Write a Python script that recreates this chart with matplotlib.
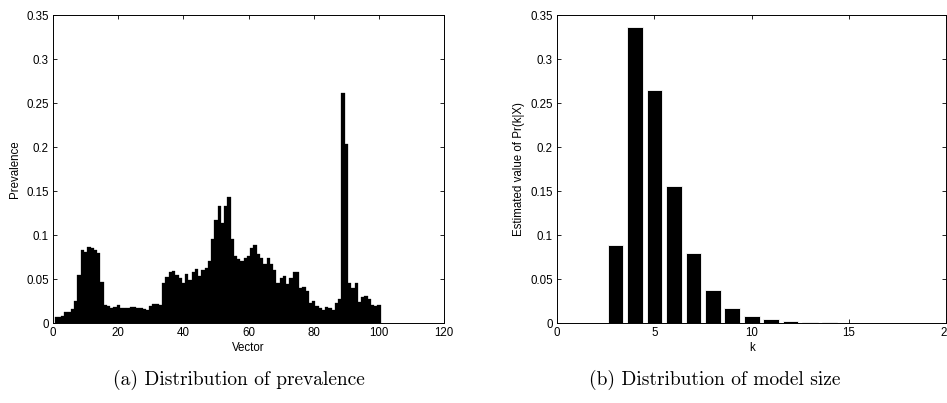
import matplotlib
matplotlib.use("Agg")
import matplotlib.pyplot as plt
import numpy as np

# prevalence of each vector (1..100)
prevalence = [
    0.007, 0.007, 0.008, 0.012, 0.013, 0.016, 0.025, 0.055, 0.083, 0.081,
    0.086, 0.085, 0.083, 0.080, 0.047, 0.020, 0.019, 0.017, 0.018, 0.020,
    0.017, 0.017, 0.017, 0.018, 0.018, 0.017, 0.017, 0.016, 0.015, 0.019,
    0.022, 0.022, 0.020, 0.046, 0.052, 0.058, 0.059, 0.055, 0.051, 0.046,
    0.056, 0.049, 0.058, 0.061, 0.054, 0.060, 0.062, 0.071, 0.095, 0.117,
    0.133, 0.114, 0.133, 0.143, 0.096, 0.076, 0.073, 0.071, 0.074, 0.076,
    0.085, 0.089, 0.078, 0.074, 0.067, 0.074, 0.067, 0.060, 0.045, 0.051,
    0.054, 0.044, 0.051, 0.058, 0.058, 0.040, 0.041, 0.036, 0.023, 0.025,
    0.019, 0.017, 0.015, 0.018, 0.017, 0.015, 0.023, 0.027, 0.261, 0.204,
    0.045, 0.040, 0.045, 0.024, 0.029, 0.031, 0.027, 0.021, 0.019, 0.021,
]
vectors = np.arange(1, len(prevalence) + 1)

# estimated Pr(k|X) for k = 1..20
k_vals = np.arange(1, 21)
pr_k = [0.0, 0.0, 0.089, 0.336, 0.265, 0.156, 0.080, 0.038, 0.0167, 0.0083,
        0.004, 0.002, 0.001, 0.0006, 0.0004, 0.0003, 0.0002, 0.0002, 0.0001, 0.0001]

ytick_labels = ['0', '0.05', '0.1', '0.15', '0.2', '0.25', '0.3', '0.35']

plt.rcParams['font.family'] = ['Liberation Sans', 'DejaVu Sans']
plt.rcParams['font.size'] = 8.3

fig = plt.figure(figsize=(9.47, 4.03), dpi=100)


def matlab_style(ax):
    ax.tick_params(direction='in', top=True, right=True, length=3, width=0.6,
                   labelsize=8.3, pad=3)
    for s in ax.spines.values():
        s.set_linewidth(0.7)


ax1 = fig.add_axes([0.056, 0.1985, 0.413, 0.764])
ax1.bar(vectors, prevalence, width=1.0, color='black', edgecolor='black', linewidth=0.2)
ax1.set_xlim(0, 120)
ax1.set_ylim(0, 0.35)
ax1.set_xticks(np.arange(0, 121, 20))
ax1.set_yticks(np.arange(0, 0.351, 0.05))
ax1.set_yticklabels(ytick_labels)
ax1.set_xlabel('Vector', labelpad=2)
ax1.set_ylabel('Prevalence', labelpad=4)
matlab_style(ax1)

ax2 = fig.add_axes([0.5882, 0.1985, 0.4112, 0.764])
ax2.bar(k_vals, pr_k, width=0.8, color='black', edgecolor='white', linewidth=0.6)
ax2.set_xlim(0, 20)
ax2.set_ylim(0, 0.35)
ax2.set_xticks(np.arange(0, 21, 5))
ax2.set_yticks(np.arange(0, 0.351, 0.05))
ax2.set_yticklabels(ytick_labels)
ax2.set_xlabel('k', labelpad=2)
ax2.set_ylabel('Estimated value of Pr(k|X)', labelpad=4)
matlab_style(ax2)

fig.text(0.2525, 0.057, '(a) Distribution of prevalence', family='cmr10',
         fontsize=14, ha='center', va='center')
fig.text(0.755, 0.057, '(b) Distribution of model size', family='cmr10',
         fontsize=14, ha='center', va='center')

fig.savefig('out.png', dpi=100)
